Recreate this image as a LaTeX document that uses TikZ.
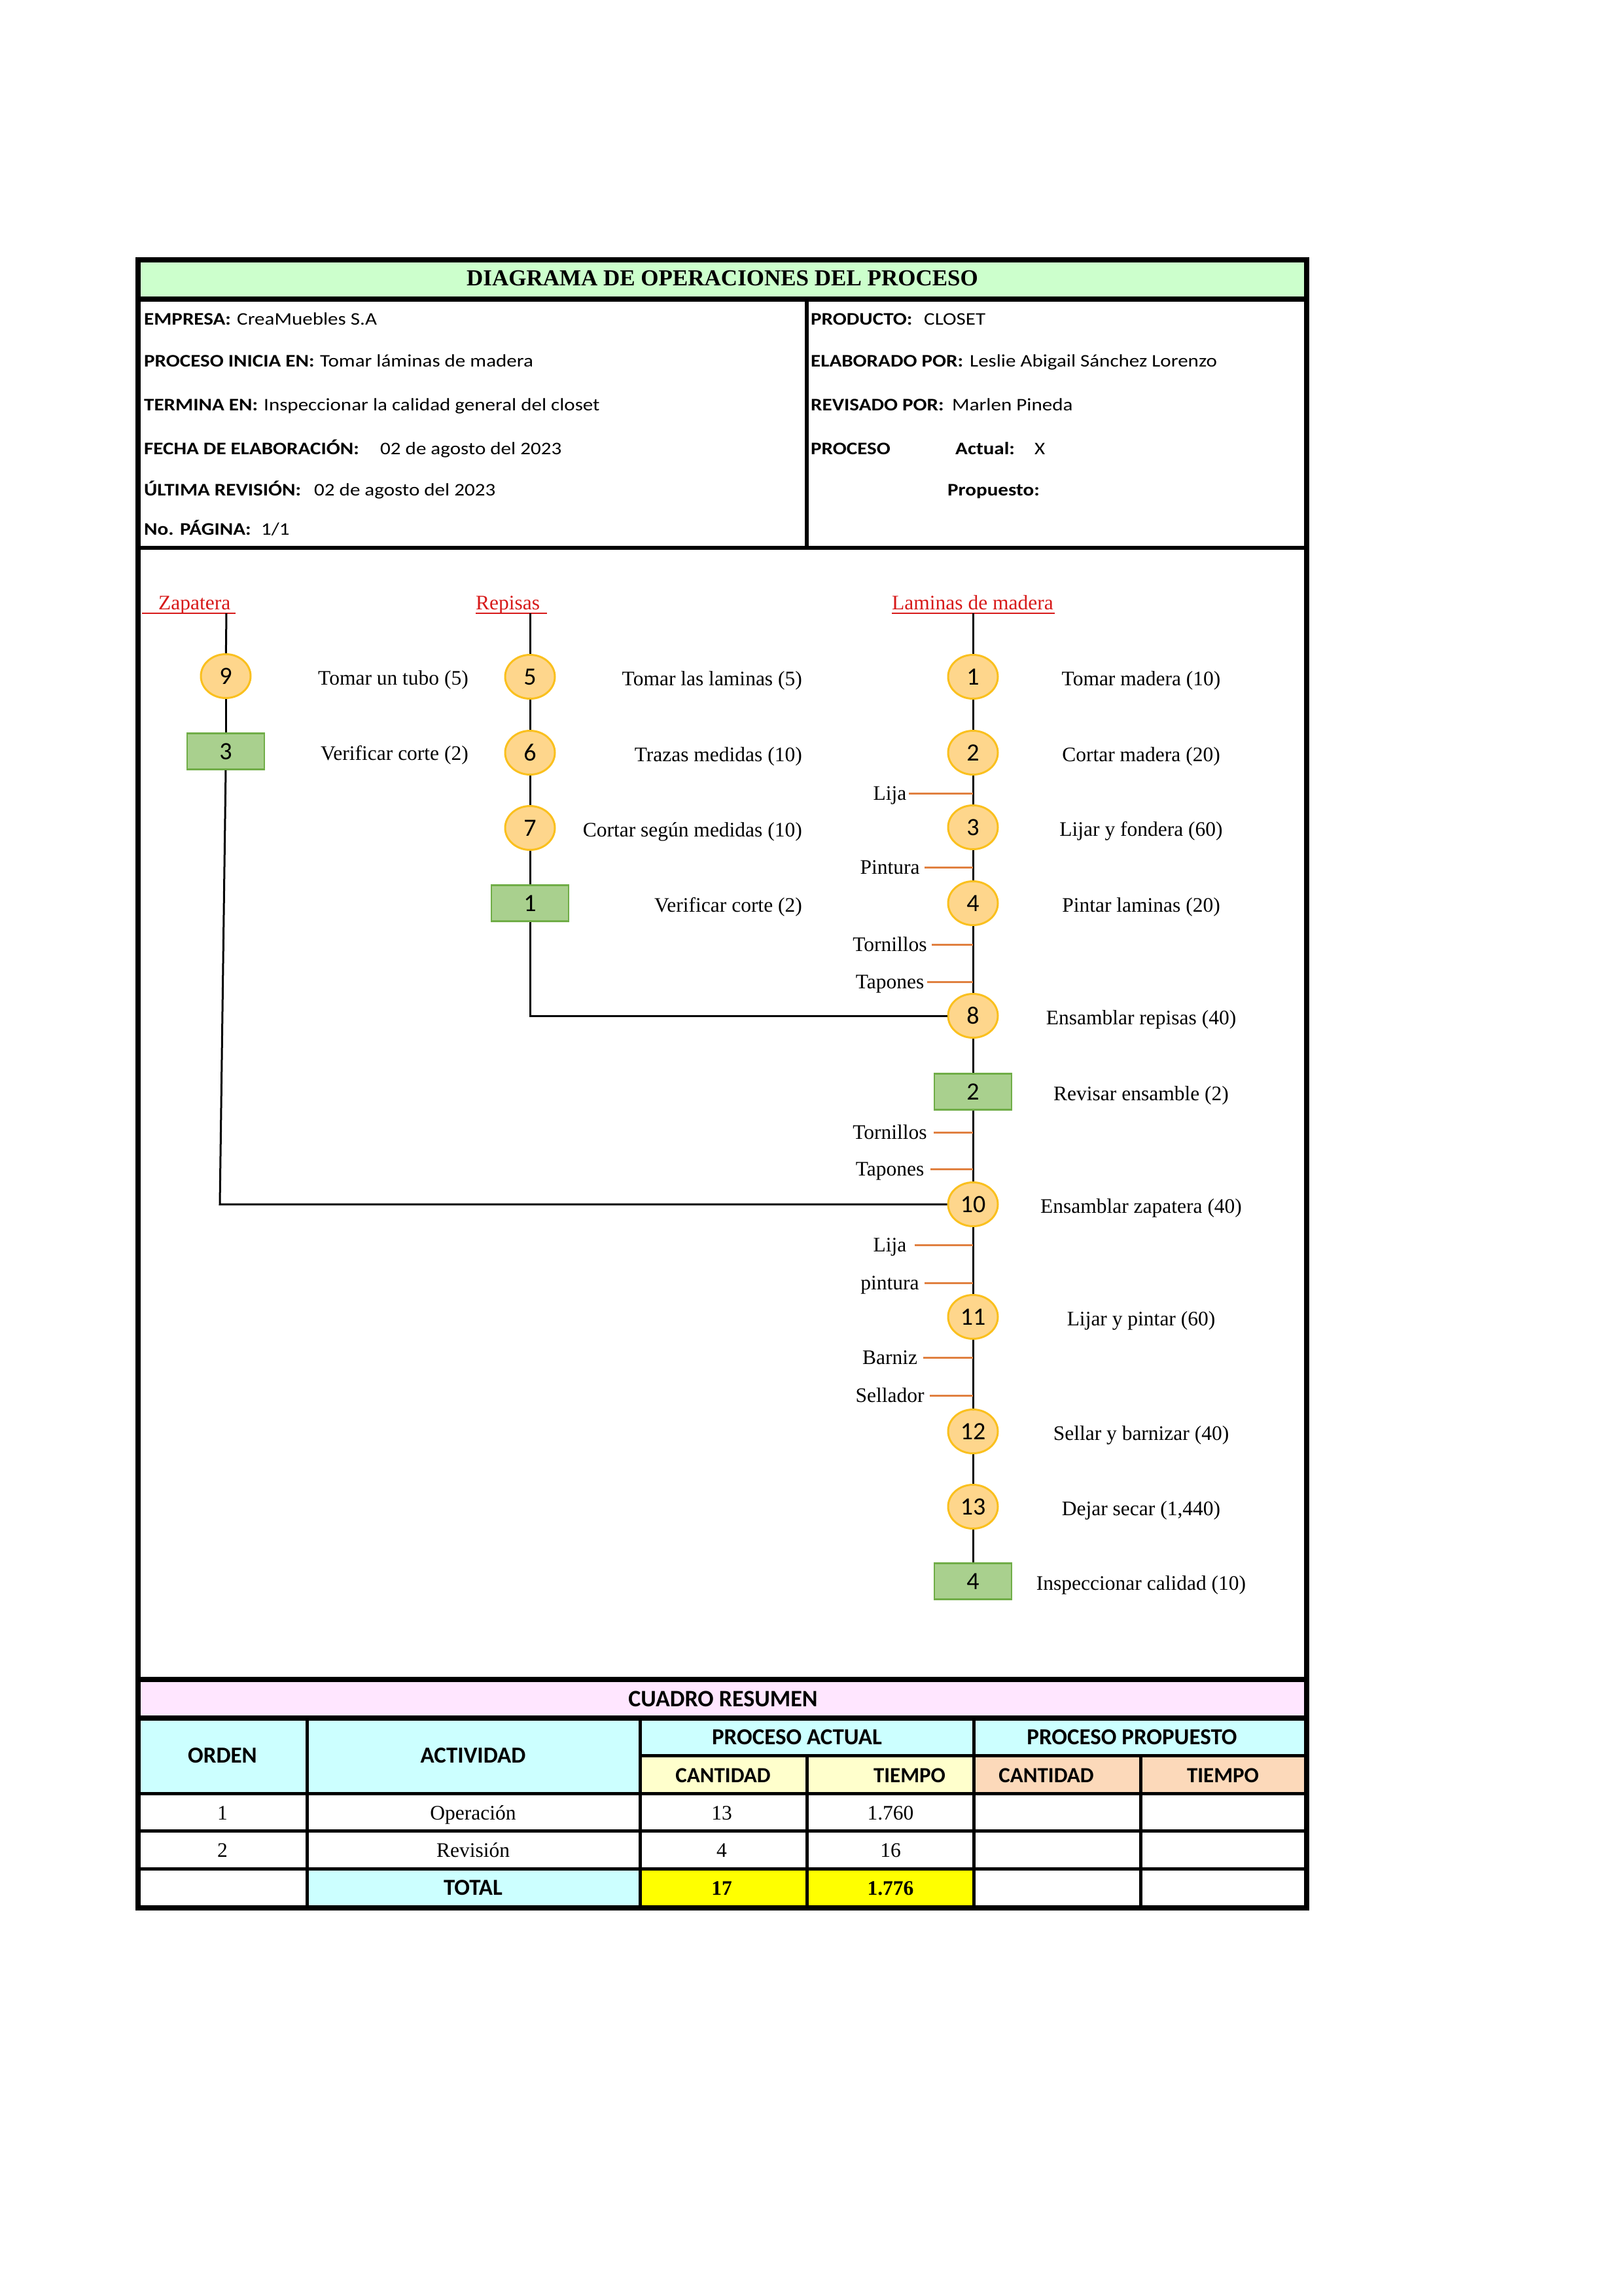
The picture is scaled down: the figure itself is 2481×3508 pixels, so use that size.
\documentclass[tikz,border=0pt]{standalone}
\usepackage{fontspec}
\setmainfont{Liberation Serif}
\newfontfamily\calA[FakeStretch=1.15]{Carlito}
\newfontfamily\calB{Carlito}
\usetikzlibrary{shapes.geometric,calc}
\definecolor{titleG}{RGB}{204,255,204}
\definecolor{pinkB}{RGB}{255,230,255}
\definecolor{cyanC}{RGB}{204,255,255}
\definecolor{yelC}{RGB}{255,255,204}
\definecolor{peachC}{RGB}{252,217,186}
\definecolor{yelT}{RGB}{255,255,0}
\definecolor{circF}{RGB}{254,214,140}
\definecolor{circB}{RGB}{250,192,30}
\definecolor{sqF}{RGB}{169,208,142}
\definecolor{sqB}{RGB}{112,173,71}
\definecolor{tickC}{RGB}{224,128,64}
\definecolor{redH}{RGB}{215,25,25}
\begin{document}
\begin{tikzpicture}[x=1pt,y=-1pt,
  op/.style={ellipse, draw=circB, fill=circF, line width=3pt, minimum width=76pt, minimum height=67pt, inner sep=0pt, font=\calB\fontsize{38}{38}\selectfont},
  insp/.style={rectangle, draw=sqB, fill=sqF, line width=2.5pt, minimum width=118pt, minimum height=55pt, inner sep=0pt, font=\calB\fontsize{38}{38}\selectfont},
  flow/.style={line width=3pt, black},
  tk/.style={line width=3pt, tickC},
  desc/.style={inner sep=0pt, font=\fontsize{31.5}{32}\selectfont, yshift=-13pt},
  mat/.style={inner sep=0pt, font=\fontsize{31.5}{32}\selectfont, text height=21pt, text depth=0pt},
  hd/.style={inner sep=0pt, font=\fontsize{31.5}{32}\selectfont, text=redH, anchor=base west},
  ulin/.style={redH, line width=2.5pt},
  infoB/.style={inner sep=0pt, anchor=base west, font=\calA\bfseries\fontsize{27}{27}\selectfont},
  infoR/.style={inner sep=0pt, anchor=base west, font=\calA\fontsize{27}{27}\selectfont},
  th/.style={inner sep=0pt, anchor=base, font=\calB\bfseries\fontsize{35}{35}\selectfont},
  thS/.style={inner sep=0pt, anchor=base, font=\calB\bfseries\fontsize{33}{33}\selectfont},
  tv/.style={inner sep=0pt, anchor=base, font=\fontsize{31.5}{32}\selectfont},
  tvb/.style={inner sep=0pt, anchor=base, font=\bfseries\fontsize{31.5}{32}\selectfont},
  frameL/.style={line width=8pt, black},
  tl/.style={line width=5pt, black}
]
\useasboundingbox (0,0) rectangle (2481,3508);

% ---------- fills ----------
\fill[titleG] (211,397) rectangle (1997,457);
\fill[pinkB] (211,2566) rectangle (1997,2625);
\fill[cyanC] (211,2625) rectangle (978,2740);
\fill[cyanC] (978,2625) rectangle (1997,2682);
\fill[yelC] (978,2682) rectangle (1488,2740);
\fill[peachC] (1488,2682) rectangle (1997,2740);
\fill[cyanC] (469,2855) rectangle (978,2915);
\fill[yelT] (978,2855) rectangle (1488,2915);

% ---------- frame and table lines ----------
\draw[frameL] (211,397) rectangle (1997,2915);
\draw[frameL] (211,457) -- (1997,457);
\draw[line width=6pt] (211,837) -- (1997,837);
\draw[line width=6pt] (1233,457) -- (1233,837);
\draw[frameL] (211,2566) -- (1997,2566);
\draw[frameL] (211,2625) -- (1997,2625);
\draw[tl] (978,2682) -- (1997,2682);
\draw[tl] (211,2740) -- (1997,2740);
\draw[tl] (211,2797) -- (1997,2797);
\draw[tl] (211,2855) -- (1997,2855);
\draw[tl] (469,2625) -- (469,2915);
\draw[tl] (978,2625) -- (978,2915);
\draw[tl] (1488,2625) -- (1488,2915);
\draw[tl] (1233,2682) -- (1233,2915);
\draw[tl] (1743,2682) -- (1743,2915);

% ---------- title ----------
\node[inner sep=0pt, anchor=base, font=\bfseries\fontsize{35}{35}\selectfont] (title) at (1104,436) {DIAGRAMA DE OPERACIONES DEL PROCESO};

% ---------- info block ----------
\node[infoB] (empL) at (220,496) {EMPRESA:};
\node[infoR] (empV) at (362,496) {CreaMuebles S.A};
\node[infoB] (iniL) at (220,560) {PROCESO INICIA EN:};
\node[infoR] (iniV) at (489,560) {Tomar láminas de madera};
\node[infoB] (terL) at (220,627) {TERMINA EN:};
\node[infoR] (terV) at (403,627) {Inspeccionar la calidad general del closet};
\node[infoB] (fecL) at (220,694) {FECHA DE ELABORACIÓN:};
\node[infoR] (fecV) at (581,694) {02 de agosto del 2023};
\node[infoB] (ultL) at (220,757) {ÚLTIMA REVISIÓN:};
\node[infoR] (ultV) at (480,757) {02 de agosto del 2023};
\node[infoB] (pagL) at (220,817) {No. PÁGINA:};
\node[infoR] (pagV) at (399,817) {1/1};
\node[infoB] (proL) at (1239,496) {PRODUCTO:};
\node[infoR] (proV) at (1412,496) {CLOSET};
\node[infoB] (elaL) at (1239,560) {ELABORADO POR:};
\node[infoR] (elaV) at (1482,560) {Leslie Abigail Sánchez Lorenzo};
\node[infoB] (revL) at (1239,627) {REVISADO POR:};
\node[infoR] (revV) at (1455,627) {Marlen Pineda};
\node[infoB] (prcL) at (1239,694) {PROCESO};
\node[infoB] (actL) at (1460,694) {Actual:};
\node[infoR] (actV) at (1581,694) {X};
\node[infoB] (prpL) at (1448,757) {Propuesto:};

% ---------- column headings ----------
\node[hd] (hZ) at (242,931) {Zapatera};
\draw[ulin] (217,937) -- (360,937);
\node[hd] (hR) at (727,931) {Repisas};
\draw[ulin] (727,937) -- (836,937);
\node[hd] (hL) at (1363,931) {Laminas de madera};
\draw[ulin] (1363,937) -- (1612,937);
\coordinate (tZ) at (346,937);
\coordinate (tR) at (810,937);
\coordinate (tL) at (1487,937);

% ---------- Zapatera column ----------
\node[op] (c9) at (345,1033) {9};
\node[insp] (s3) at (345,1148) {3};
\node[desc, anchor=base east] (d9) at (716,1033) {Tomar un tubo (5)};
\node[desc, anchor=base east] (ds3) at (716,1148) {Verificar corte (2)};

% ---------- Repisas column ----------
\node[op] (c5) at (810,1034) {5};
\node[op] (c6) at (810,1150) {6};
\node[op] (c7) at (810,1265) {7};
\node[insp] (s1) at (810,1380) {1};
\node[desc, anchor=base east] (d5) at (1226,1034) {Tomar las laminas (5)};
\node[desc, anchor=base east] (d6) at (1226,1150) {Trazas medidas (10)};
\node[desc, anchor=base east] (d7) at (1226,1265) {Cortar según medidas (10)};
\node[desc, anchor=base east] (ds1) at (1226,1380) {Verificar corte (2)};

% ---------- main column ----------
\node[op] (c1) at (1487,1034) {1};
\node[op] (c2) at (1487,1150) {2};
\node[op] (c3) at (1487,1264) {3};
\node[op] (c4) at (1487,1380) {4};
\node[op] (c8) at (1487,1552) {8};
\node[insp] (s2) at (1487,1668) {2};
\node[op] (c10) at (1487,1840) {10};
\node[op] (c11) at (1487,2012) {11};
\node[op] (c12) at (1487,2187) {12};
\node[op] (c13) at (1487,2302) {13};
\node[insp] (s4) at (1487,2416) {4};
\node[desc, anchor=base] (d1) at (1744,1034) {Tomar madera (10)};
\node[desc, anchor=base] (d2) at (1744,1150) {Cortar madera (20)};
\node[desc, anchor=base] (d3) at (1744,1264) {Lijar y fondera (60)};
\node[desc, anchor=base] (d4) at (1744,1380) {Pintar laminas (20)};
\node[desc, anchor=base] (d8) at (1744,1552) {Ensamblar repisas (40)};
\node[desc, anchor=base] (ds2) at (1744,1668) {Revisar ensamble (2)};
\node[desc, anchor=base] (d10) at (1744,1840) {Ensamblar zapatera (40)};
\node[desc, anchor=base] (d11) at (1744,2012) {Lijar y pintar (60)};
\node[desc, anchor=base] (d12) at (1744,2187) {Sellar y barnizar (40)};
\node[desc, anchor=base] (d13) at (1744,2302) {Dejar secar (1,440)};
\node[desc, anchor=base] (ds4) at (1744,2416) {Inspeccionar calidad (10)};

% ---------- flow lines ----------
\draw[flow] (tZ) -- (c9);
\draw[flow] (c9) -- (s3);
\coordinate (kZ) at (336,1840);
\draw[flow] (s3.south) -- (kZ) -- (c10.west);
\draw[flow] (tR) -- (c5);
\draw[flow] (c5) -- (c6);
\draw[flow] (c6) -- (c7);
\draw[flow] (c7) -- (s1);
\coordinate (kR) at (810,1552);
\draw[flow] (s1.south) -- (kR) -- (c8.west);
\draw[flow] (tL) -- (c1);
\draw[flow] (c1) -- (c2);
\draw[flow] (c2) -- (c3);
\draw[flow] (c3) -- (c4);
\draw[flow] (c4) -- (c8);
\draw[flow] (c8) -- (s2);
\draw[flow] (s2) -- (c10);
\draw[flow] (c10) -- (c11);
\draw[flow] (c11) -- (c12);
\draw[flow] (c12) -- (c13);
\draw[flow] (c13) -- (s4);

% ---------- materials ----------
\node[mat] (m1) at (1360,1212) {Lija};
\node[mat] (m2) at (1360,1325) {Pintura};
\node[mat] (m3) at (1360,1443) {Tornillos};
\node[mat] (m4) at (1360,1500) {Tapones};
\node[mat] (m5) at (1360,1730) {Tornillos};
\node[mat] (m6) at (1360,1786) {Tapones};
\node[mat] (m7) at (1360,1902) {Lija};
\node[mat] (m8) at (1360,1960) {pintura};
\node[mat] (m9) at (1360,2074) {Barniz};
\node[mat] (m10) at (1360,2132) {Sellador};
\foreach \m/\g in {m1/3,m2/7,m3/7,m4/5,m5/10,m6/10,m7/12,m8/8,m9/9,m10/8}{
  \draw[tk] ($(\m.east)+(\g,0)$) -- (\m.east -| c1.center);
}

% ---------- summary table ----------
\node[inner sep=0pt, anchor=base, font=\calB\bfseries\fontsize{36}{36}\selectfont] (cr) at (1105,2607) {CUADRO RESUMEN};
\node[th] (hOrd) at (340,2693) {ORDEN};
\node[th] (hAct) at (723,2693) {ACTIVIDAD};
\node[th] (hPA) at (1218,2665) {PROCESO ACTUAL};
\node[th] (hPP) at (1730,2665) {PROCESO PROPUESTO};
\node[thS] (hC1) at (1105,2723) {CANTIDAD};
\node[thS] (hT1) at (1390,2723) {TIEMPO};
\node[thS] (hC2) at (1599,2723) {CANTIDAD};
\node[thS] (hT2) at (1869,2723) {TIEMPO};
\node[tv] (r1o) at (340,2780) {1};
\node[tv] (r1a) at (723,2780) {Operación};
\node[tv] (r1c) at (1103,2780) {13};
\node[tv] (r1t) at (1361,2780) {1.760};
\node[tv] (r2o) at (340,2837) {2};
\node[tv] (r2a) at (723,2837) {Revisión};
\node[tv] (r2c) at (1103,2837) {4};
\node[tv] (r2t) at (1361,2837) {16};
\node[th] (tot) at (723,2895) {TOTAL};
\node[tvb] (totc) at (1103,2895) {17};
\node[tvb] (tott) at (1361,2895) {1.776};
\end{tikzpicture}
\end{document}
